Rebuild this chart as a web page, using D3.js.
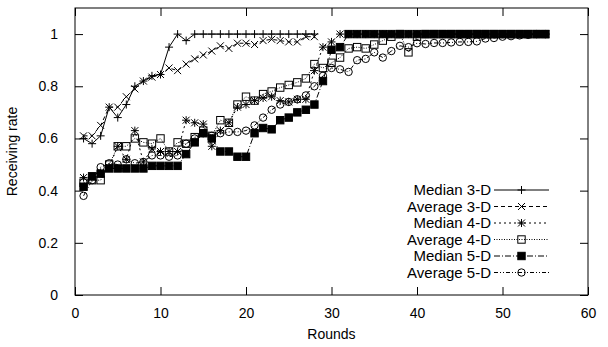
<!DOCTYPE html>
<html>
<head>
<meta charset="utf-8">
<script src="https://cdn.jsdelivr.net/npm/d3@7"></script>
<style>
  html, body { margin: 0; padding: 0; background: #fff; }
  svg text { font-family: "Liberation Sans", Arial, sans-serif; fill: #000; }
</style>
</head>
<body>
<div id="chart"></div>
<script>
// receiving rate per round, index 0 = round 1
const median3D = [0.60, 0.58, 0.61, 0.72, 0.68, 0.73, 0.80, 0.82, 0.84, 0.845,
  0.95, 1.0, 0.975, 1, 1, 1, 1, 1, 1, 1, 1, 1, 1, 1, 1, 1, 1, 1];
const average3D = [0.61, 0.61, 0.65, 0.72, 0.72, 0.76, 0.79, 0.82, 0.835, 0.845,
  0.87, 0.86, 0.885, 0.905, 0.92, 0.935, 0.955, 0.945, 0.965, 0.965,
  0.96, 0.975, 0.98, 0.975, 0.97, 0.97, 0.99, 0.99];
const median4D = [0.45, 0.45, 0.47, 0.49, 0.57, 0.52, 0.63, 0.51, 0.56, 0.55,
  0.55, 0.55, 0.67, 0.66, 0.655, 0.57, 0.63, 0.66, 0.72, 0.73,
  0.745, 0.755, 0.76, 0.745, 0.74, 0.75, 0.75, 0.86, 0.95, 0.97,
  1, 1, 1, 1, 1, 1, 1, 1, 1, 1, 1, 1, 1, 1, 1, 1, 1, 1, 1, 1, 1, 1, 1, 1, 1];
const average4D = [0.43, 0.44, 0.44, 0.50, 0.57, 0.57, 0.60, 0.585, 0.58, 0.60,
  0.55, 0.585, 0.58, 0.605, 0.63, 0.61, 0.67, 0.66, 0.73, 0.76,
  0.745, 0.77, 0.78, 0.795, 0.805, 0.815, 0.83, 0.885, 0.87, 0.89,
  0.91, 0.945, 0.95, 0.945, 0.96, 0.975, 0.99, 1.0, 0.93, 0.99,
  1, 1, 1, 1, 1, 1, 1, 1, 1, 1, 1, 1, 1, 1, 1];
const median5D = [0.415, 0.455, 0.465, 0.485, 0.485, 0.485, 0.485, 0.485, 0.495, 0.495,
  0.495, 0.495, 0.54, 0.585, 0.62, 0.60, 0.55, 0.55, 0.53, 0.53,
  0.62, 0.64, 0.635, 0.67, 0.68, 0.70, 0.71, 0.73, 0.82, 0.94,
  0.95, 1, 1, 1, 1, 1, 1, 1, 1, 1, 1, 1, 1, 1, 1, 1, 1, 1, 1, 1, 1, 1, 1, 1, 1];
const average5D = [0.38, 0.44, 0.49, 0.505, 0.50, 0.52, 0.505, 0.51, 0.535, 0.535,
  0.53, 0.535, 0.58, 0.60, 0.62, 0.61, 0.62, 0.625, 0.625, 0.63,
  0.65, 0.68, 0.71, 0.73, 0.74, 0.75, 0.765, 0.80, 0.84, 0.87,
  0.865, 0.855, 0.90, 0.905, 0.93, 0.91, 0.935, 0.955, 0.95, 0.965,
  0.962, 0.966, 0.966, 0.968, 0.97, 0.97, 0.972, 0.983, 0.985, 0.99,
  0.992, 0.995, 0.997, 1.0, 1.0];

const seriesNames = ["Median 3-D", "Average 3-D", "Median 4-D", "Average 4-D", "Median 5-D", "Average 5-D"];
const seriesValues = [median3D, average3D, median4D, average4D, median5D, average5D];
const xTicks = [0, 10, 20, 30, 40, 50, 60];
const yTicks = [0, 0.2, 0.4, 0.6, 0.8, 1];

const styles = [
  { dash: null, marker: "plus" },
  { dash: "4,3", marker: "cross" },
  { dash: "2,3", marker: "star" },
  { dash: "1,1.5", marker: "box" },
  { dash: "6,2,1,2", marker: "fbox" },
  { dash: "4,2,1,2,1,2", marker: "circle" }
];

const width = 608, height = 347;
const margin = { top: 8, right: 20, bottom: 52, left: 75 };
const w = width - margin.left - margin.right;
const h = height - margin.top - margin.bottom;

const svg = d3.select("#chart").append("svg")
  .attr("width", width).attr("height", height);
const g = svg.append("g").attr("transform", `translate(${margin.left},${margin.top})`);

const x = d3.scaleLinear().domain([0, 60]).range([0, w]);
const y = d3.scaleLinear().domain([0, 1.1]).range([h, 0]);

const fmt = d => String(+d.toFixed(1));
const tick = 8;

g.append("g").attr("transform", `translate(0,${h})`)
  .call(d3.axisBottom(x).tickValues(xTicks).tickSize(-tick).tickPadding(tick + 5).tickFormat(fmt))
  .call(a => a.select(".domain").remove());
g.append("g")
  .call(d3.axisTop(x).tickValues(xTicks).tickSize(-tick).tickFormat(""))
  .call(a => a.select(".domain").remove());
g.append("g")
  .call(d3.axisLeft(y).tickValues(yTicks).tickSize(-tick).tickPadding(tick + 9).tickFormat(fmt))
  .call(a => a.select(".domain").remove());
g.append("g").attr("transform", `translate(${w},0)`)
  .call(d3.axisRight(y).tickValues(yTicks).tickSize(-tick).tickFormat(""))
  .call(a => a.select(".domain").remove());

g.selectAll(".tick line").attr("stroke", "#000");
g.selectAll(".tick text").style("font-size", "14px").style("font-family", "Liberation Sans, Arial, sans-serif");

g.append("rect").attr("width", w).attr("height", h)
  .attr("fill", "none").attr("stroke", "#000").attr("stroke-width", 1);

g.append("text").attr("x", w / 2).attr("y", h + 44)
  .attr("text-anchor", "middle").style("font-size", "14px").text("Rounds");
g.append("text").attr("transform", "rotate(-90)")
  .attr("x", -h / 2).attr("y", -58)
  .attr("text-anchor", "middle").style("font-size", "14px").text("Receiving rate");

function drawMarker(sel, type, cx, cy) {
  const s = 4, c = 3.5, b = 3.7;
  if (type === "plus" || type === "star") {
    sel.append("path").attr("d", `M${cx - s},${cy}H${cx + s}M${cx},${cy - s}V${cy + s}`)
      .attr("stroke", "#000").attr("fill", "none");
  }
  if (type === "cross" || type === "star") {
    sel.append("path").attr("d", `M${cx - c},${cy - c}L${cx + c},${cy + c}M${cx - c},${cy + c}L${cx + c},${cy - c}`)
      .attr("stroke", "#000").attr("fill", "none");
  }
  if (type === "box" || type === "fbox") {
    sel.append("rect").attr("x", cx - b).attr("y", cy - b).attr("width", 2 * b).attr("height", 2 * b)
      .attr("stroke", "#000").attr("fill", type === "fbox" ? "#000" : "none");
  }
  if (type === "circle") {
    sel.append("circle").attr("cx", cx).attr("cy", cy).attr("r", 3.7)
      .attr("stroke", "#000").attr("fill", "none");
  }
}

const line = d3.line().x((d, i) => x(i + 1)).y(d => y(d));

seriesValues.forEach((vals, k) => {
  const st = styles[k];
  const sg = g.append("g");
  sg.append("path").datum(vals)
    .attr("d", line).attr("fill", "none").attr("stroke", "#000").attr("stroke-width", 1)
    .attr("stroke-dasharray", st.dash);
  vals.forEach((v, i) => drawMarker(sg, st.marker, x(i + 1), y(v)));
});

// legend
const legend = svg.append("g");
const lx1 = 494, lx2 = 549, ly0 = 190, lstep = 16.5;
seriesNames.forEach((name, k) => {
  const st = styles[k];
  const ly = ly0 + k * lstep;
  legend.append("text").attr("x", lx1 - 3).attr("y", ly).attr("dy", "0.35em")
    .attr("text-anchor", "end").style("font-size", "15px").text(name);
  legend.append("line").attr("x1", lx1).attr("x2", lx2).attr("y1", ly).attr("y2", ly)
    .attr("stroke", "#000").attr("stroke-dasharray", st.dash);
  drawMarker(legend, st.marker, (lx1 + lx2) / 2, ly);
});
</script>
</body>
</html>
